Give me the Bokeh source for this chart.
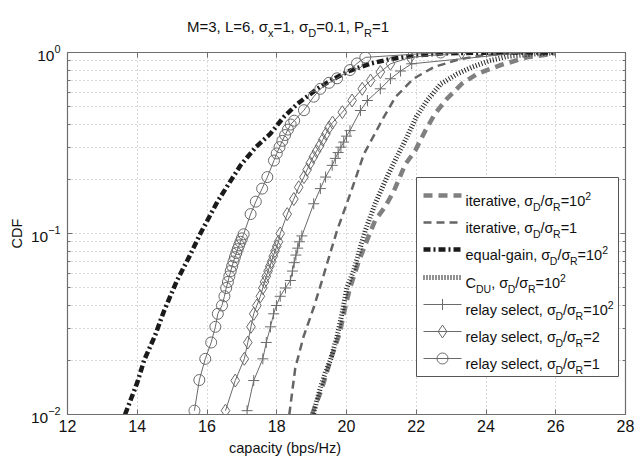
import math
from bokeh.plotting import figure
from bokeh.layouts import column
from bokeh.models import (Label, LinearAxis, LogAxis, FixedTicker, CustomJSTickFormatter,
                          Range1d, LogTickFormatter, Div)
from bokeh.embed import file_html
from bokeh.resources import INLINE

# ---------------- data ----------------
it100_x = [19.01, 19.3, 19.54, 19.8, 20.0, 20.1, 20.35, 20.63, 20.82, 21.1, 21.35, 21.68, 21.97,
           22.26, 22.54, 22.88, 23.3, 23.74, 24.4, 25.17, 26.0]
it100_y = [0.01, 0.014, 0.02, 0.028, 0.042, 0.05, 0.07, 0.096, 0.118, 0.14, 0.17, 0.24, 0.287,
           0.37, 0.46, 0.555, 0.67, 0.76, 0.85, 0.94, 0.99]

it1_x = [18.36, 18.53, 18.77, 19.06, 19.3, 19.55, 19.73, 20.11, 20.5, 21.07, 21.4, 21.92, 22.5,
         23.26, 24.0, 25.0]
it1_y = [0.01, 0.018, 0.027, 0.039, 0.055, 0.08, 0.104, 0.166, 0.275, 0.44, 0.566, 0.716, 0.83,
         0.92, 0.97, 0.995]

eg_x = [13.65, 14.0, 14.2, 14.5, 14.76, 15.14, 15.5, 15.81, 16.3, 16.96, 17.4, 17.82, 18.2, 18.59,
        19.16, 19.6, 20.11, 20.7, 21.26, 22.0, 22.8, 24.0, 26.0]
eg_y = [0.01, 0.015, 0.02, 0.027, 0.037, 0.055, 0.075, 0.10, 0.15, 0.238, 0.30, 0.356, 0.44, 0.52,
        0.63, 0.71, 0.795, 0.87, 0.92, 0.965, 0.99, 0.998, 1.0]

cdu_x = [19.06, 19.15, 19.25, 19.39, 19.54, 19.73, 19.87, 20.01, 20.2, 20.54, 20.82, 21.16, 21.4,
         21.73, 22.0, 22.3, 22.7, 23.17, 23.6, 24.1, 24.6, 25.3, 26.0]
cdu_y = [0.0101, 0.012, 0.014, 0.017, 0.020, 0.027, 0.036, 0.050, 0.062, 0.104, 0.146, 0.205, 0.255,
         0.34, 0.44, 0.54, 0.67, 0.76, 0.83, 0.90, 0.95, 0.98, 0.995]

rs100_x = [17.15, 17.34, 17.6, 17.7, 17.82, 17.91, 17.99, 18.1, 18.25, 18.39, 18.45, 18.5, 18.55,
           18.6, 18.65, 18.72, 19.06, 19.25, 19.4, 19.59, 19.68, 19.76, 19.84, 19.92, 20.0, 20.1,
           20.4, 20.6, 20.97, 21.26, 21.55, 21.87, 25.1]
rs100_y = [0.0105, 0.0154, 0.0203, 0.025, 0.0305, 0.036, 0.040, 0.045, 0.050, 0.055, 0.062, 0.069,
           0.076, 0.083, 0.09, 0.097, 0.146, 0.177, 0.205, 0.238, 0.26, 0.28, 0.30, 0.32, 0.345,
           0.37, 0.478, 0.543, 0.63, 0.716, 0.79, 0.866, 1.0]

rs2_x = [16.53, 16.81, 17.07, 17.17, 17.26, 17.34, 17.43, 17.53, 17.6, 17.65, 17.7, 17.75, 17.8,
         17.85, 17.9, 17.95, 18.0, 18.05, 18.1, 18.3, 18.49, 18.63, 18.78, 18.87, 18.96, 19.05,
         19.14, 19.23, 19.32, 19.41, 19.5, 19.6, 19.88, 20.16, 20.45, 20.69, 20.97, 21.26, 21.83,
         23.3]
rs2_y = [0.0105, 0.0154, 0.0203, 0.025, 0.0305, 0.036, 0.040, 0.045, 0.050, 0.054, 0.058, 0.062,
         0.066, 0.070, 0.075, 0.080, 0.085, 0.090, 0.10, 0.128, 0.155, 0.18, 0.205, 0.225, 0.245,
         0.265, 0.285, 0.305, 0.33, 0.355, 0.385, 0.41, 0.468, 0.543, 0.63, 0.70, 0.78, 0.866,
         0.94, 1.0]

rs1_x = [15.64, 15.78, 15.95, 16.12, 16.24, 16.31, 16.43, 16.5, 16.55, 16.6, 16.64, 16.68, 16.72,
         16.76, 16.8, 16.84, 16.88, 16.92, 16.96, 17.0, 17.05, 17.25, 17.4, 17.58, 17.73, 17.92,
         18.0, 18.08, 18.16, 18.24, 18.32, 18.4, 18.5, 18.78, 19.06, 19.25, 19.5, 19.73, 20.1,
         20.3, 20.54, 22.7]
rs1_y = [0.0105, 0.0155, 0.0203, 0.025, 0.0305, 0.036, 0.040, 0.045, 0.050, 0.054, 0.058, 0.062,
         0.066, 0.070, 0.074, 0.078, 0.082, 0.086, 0.090, 0.094, 0.099, 0.128, 0.15, 0.177, 0.205,
         0.253, 0.277, 0.30, 0.325, 0.35, 0.375, 0.40, 0.42, 0.48, 0.57, 0.63, 0.68, 0.72, 0.80,
         0.87, 0.94, 1.0]

x_ticks = [12, 14, 16, 18, 20, 22, 24, 26, 28]
y_ticks = [0.01, 0.1, 1.0]
y_minor = [0.02, 0.03, 0.04, 0.05, 0.06, 0.07, 0.08, 0.09,
           0.2, 0.3, 0.4, 0.5, 0.6, 0.7, 0.8, 0.9]

# ---------------- layout constants ----------------
FONT = "Liberation Sans"
TITLE_H = 40
FL, FT, FW, FH = 67, 52, 558, 362      # frame position on page (px)
FB = FT + FH
X0, X1 = 12, 28
FIG_H = 400


def px2x(px):
    return X0 + (px - FL) / FW * (X1 - X0)


def py2y(py):
    return 10 ** (-2.0 * (py - FT) / FH)


p = figure(width=635, height=FIG_H, x_range=Range1d(X0, X1), y_range=Range1d(0.01, 1.0),
           y_axis_type="log", output_backend="svg", toolbar_location=None,
           min_border_left=FL, min_border_right=635 - FL - FW, min_border_top=FT - TITLE_H,
           min_border_bottom=TITLE_H + FIG_H - FB, margin=0)
p.background_fill_color = "white"
p.border_fill_color = "white"
p.outline_line_color = "#6e6e6e"
p.outline_line_width = 1.2

xt = FixedTicker(ticks=x_ticks)
yt = FixedTicker(ticks=y_ticks, minor_ticks=y_minor)

AX = "#6e6e6e"
for ax in p.xaxis:
    ax.ticker = xt
    ax.major_tick_in, ax.major_tick_out = 5, 0
    ax.minor_tick_in, ax.minor_tick_out = 0, 0
    ax.major_label_standoff = 5
    ax.major_label_text_font_size = "16px"
for ax in p.yaxis:
    ax.ticker = yt
    ax.formatter = LogTickFormatter()
    ax.major_tick_in, ax.major_tick_out = 5, 0
    ax.minor_tick_in, ax.minor_tick_out = 3, 0
    ax.major_label_standoff = 7
    ax.major_label_text_font_size = "15.5px"
    ax.axis_label = "CDF"
    ax.axis_label_text_font = FONT
    ax.axis_label_text_font_size = "14.5px"
    ax.axis_label_text_font_style = "normal"
    ax.axis_label_text_color = "#111111"
    ax.axis_label_standoff = 3
for ax in list(p.xaxis) + list(p.yaxis):
    ax.axis_line_color = AX
    ax.major_tick_line_color = AX
    ax.minor_tick_line_color = AX
    ax.major_label_text_font = FONT
    ax.major_label_text_color = "#111111"

blank = CustomJSTickFormatter(code="return ''")
top = LinearAxis(ticker=xt, formatter=blank, major_tick_in=5, major_tick_out=0,
                 minor_tick_in=0, minor_tick_out=0, major_label_standoff=0,
                 axis_line_color=AX, major_tick_line_color=AX)
right = LogAxis(ticker=yt, formatter=blank, major_tick_in=5, major_tick_out=0,
                minor_tick_in=3, minor_tick_out=0, major_label_standoff=0,
                axis_line_color=AX, major_tick_line_color=AX, minor_tick_line_color=AX)
p.add_layout(top, "above")
p.add_layout(right, "right")

for g in (p.xgrid, p.ygrid):
    g.grid_line_color = "#b5b5b5"
    g.grid_line_dash = "1 3"
    g.grid_line_width = 1
p.xgrid.ticker = xt
p.ygrid.ticker = yt
p.ygrid.minor_grid_line_color = "#b5b5b5"
p.ygrid.minor_grid_line_dash = "1 3"

# ---------------- curves ----------------
STY = {
    "it100": dict(line_color="#808080", line_width=4.5, line_dash="9 6"),
    "it1": dict(line_color="#656565", line_width=2.5, line_dash="8 5"),
    "eg": dict(line_color="#1a1a1a", line_width=4.5, line_dash="7 3 2 3"),
    "cdu": dict(line_color="#262626", line_width=5, line_dash="1 2"),
    "rs": dict(line_color="#6a6a6a", line_width=1),
}
MK = {"rs100": ("cross", 11), "rs2": ("diamond", 13), "rs1": ("circle", 11)}

p.line(it100_x, it100_y, **STY["it100"])
p.line(it1_x, it1_y, **STY["it1"])
p.line(eg_x, eg_y, **STY["eg"])
p.line(cdu_x, cdu_y, **STY["cdu"])
for key, xs, ys in (("rs100", rs100_x, rs100_y), ("rs2", rs2_x, rs2_y), ("rs1", rs1_x, rs1_y)):
    p.line(xs, ys, **STY["rs"])
    m, s = MK[key]
    p.scatter(xs, ys, marker=m, size=s, fill_color=None, line_color="#6a6a6a", line_width=1)

# ---------------- rich text helper (inside the frame) ----------------
AW = {' ': 278, '!': 278, '(': 333, ')': 333, ',': 278, '-': 333, '.': 278, '/': 278, '=': 584,
      'C': 722, 'D': 722, 'H': 722, 'L': 556, 'M': 833, 'P': 667, 'R': 722, 'U': 722,
      'a': 556, 'b': 556, 'c': 500, 'd': 556, 'e': 556, 'g': 556, 'i': 222, 'l': 222, 'n': 556,
      'p': 556, 'q': 556, 'r': 333, 's': 500, 't': 278, 'u': 556, 'v': 500, 'x': 500, 'y': 500,
      'z': 500, 'σ': 590}
for d in "0123456789":
    AW[d] = 556


def tw(s, fs):
    return sum(AW.get(c, 556) for c in s) * fs / 1000.0


def rich(px, py_base, parts, fs=14.5, sfs=10.5, sub=6, sup=5, color="#111111"):
    x = px
    for t, m in parts:
        f = fs if m == "n" else sfs
        dy = 0 if m == "n" else (-sub if m == "b" else sup)
        p.add_layout(Label(x=x - FL, y=FB - py_base + dy, x_units="screen", y_units="screen",
                           text=t, text_font=FONT, text_font_size=f"{f}px", text_color=color,
                           text_align="left", text_baseline="alphabetic"))
        x += tw(t, f)


# ---------------- legend ----------------
p.quad(left=px2x(416), right=px2x(618), top=py2y(177), bottom=py2y(376),
       fill_color="white", line_color="#555555", line_width=1)

ratio = [("/σ", "n"), ("R", "b")]
entries = [
    ("it100", None, [("iterative, σ", "n"), ("D", "b")] + ratio + [("=10", "n"), ("2", "p")]),
    ("it1", None, [("iterative, σ", "n"), ("D", "b")] + ratio + [("=1", "n")]),
    ("eg", None, [("equal-gain, σ", "n"), ("D", "b")] + ratio + [("=10", "n"), ("2", "p")]),
    ("cdu", None, [("C", "n"), ("DU", "b"), (", σ", "n"), ("D", "b")] + ratio +
     [("=10", "n"), ("2", "p")]),
    ("rs", "rs100", [("relay select, σ", "n"), ("D", "b")] + ratio + [("=10", "n"), ("2", "p")]),
    ("rs", "rs2", [("relay select, σ", "n"), ("D", "b")] + ratio + [("=2", "n")]),
    ("rs", "rs1", [("relay select, σ", "n"), ("D", "b")] + ratio + [("=1", "n")]),
]
row_c = [195, 222, 249, 277, 304, 331, 358]
for (sty, mk, parts), cy in zip(entries, row_c):
    yy = py2y(cy)
    p.line([px2x(423), px2x(461)], [yy, yy], **STY[sty])
    if mk:
        m, s = MK[mk]
        p.scatter([px2x(442)], [yy], marker=m, size=s, fill_color=None, line_color="#6a6a6a",
                  line_width=1)
    rich(465, cy + 5, parts)

# ---------------- title and x label (HTML, with subscripts) ----------------
SUB = "font-size:11px;vertical-align:-5px;line-height:0"
title_html = (f"<div style=\"font-family:'{FONT}';font-size:15px;color:#111111;"
              f"line-height:17px;padding-left:187px;padding-top:18px;white-space:nowrap\">"
              f"M=3, L=6, σ<span style='{SUB}'>x</span>=1, σ<span style='{SUB}'>D</span>=0.1, "
              f"P<span style='{SUB}'>R</span>=1</div>")
title_div = Div(text=title_html, width=635, height=TITLE_H, margin=0)

XL_H = 457 - TITLE_H - FIG_H
xlab_html = (f"<div style=\"font-family:'{FONT}';font-size:14.5px;color:#111111;"
             f"line-height:17px;padding-left:229px;padding-top:0px;white-space:nowrap\">"
             f"capacity (bps/Hz)</div>")
xlab_div = Div(text=xlab_html, width=635, height=XL_H, margin=0)

layout = column(title_div, p, xlab_div, spacing=0, margin=0)
open("out.html", "w").write(file_html(layout, INLINE))
